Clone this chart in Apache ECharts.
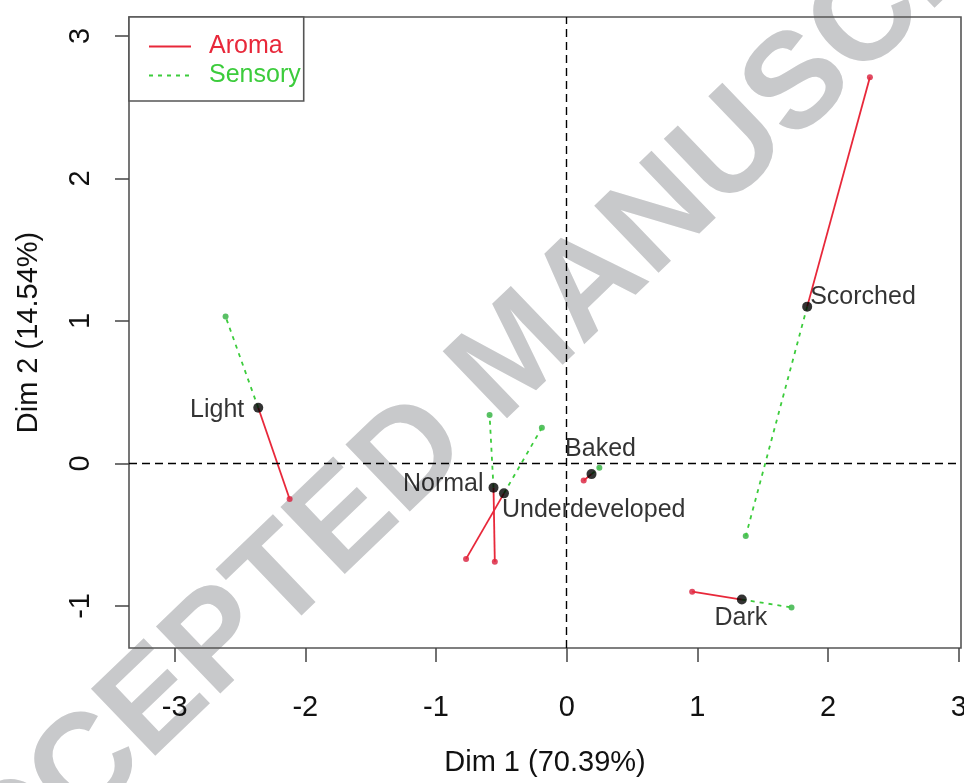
<!DOCTYPE html>
<html>
<head>
<meta charset="utf-8">
<script src="https://cdn.jsdelivr.net/npm/echarts@6/dist/echarts.min.js"></script>
<style>
  html, body { margin: 0; padding: 0; background: #fff; overflow: hidden; }
  #chart { width: 964px; height: 783px; }
</style>
</head>
<body>
<div id="chart"></div>
<script>
    // 各样品的平均点坐标
    var individuals = ['Light', 'Normal', 'Underdeveloped', 'Baked', 'Scorched', 'Dark'];
    var meanX = [-2.36, -0.56, -0.48, 0.19, 1.84, 1.34];
    var meanY = [0.39, -0.17, -0.21, -0.075, 1.10, -0.955];
    // Aroma 部分点
    var aromaX = [-2.12, -0.55, -0.77, 0.13, 2.32, 0.96];
    var aromaY = [-0.25, -0.69, -0.67, -0.12, 2.71, -0.90];
    // Sensory 部分点
    var sensoryX = [-2.61, -0.59, -0.19, 0.25, 1.37, 1.72];
    var sensoryY = [1.03, 0.34, 0.25, -0.03, -0.51, -1.01];
    // 刻度
    var xTicks = [-3, -2, -1, 0, 1, 2, 3];
    var yTicks = [-1, 0, 1, 2, 3];

    var red = '#e8283a';
    var green = '#3ccc3c';
    var font = "'Liberation Sans', Arial, sans-serif";

    // 标签位置（相对于点中心的偏移）
    var labelPos = {
        'Light': { align: 'right', offset: [-14, 2] },
        'Normal': { align: 'right', offset: [-10, -4] },
        'Underdeveloped': { align: 'left', offset: [-2, 17] },
        'Baked': { align: 'center', offset: [9, -25] },
        'Scorched': { align: 'left', offset: [3, -10] },
        'Dark': { align: 'center', offset: [-1, 19] }
    };

    var series = [];
    individuals.forEach(function(name, i) {
        series.push({
            name: 'Aroma',
            type: 'line',
            symbol: 'none',
            lineStyle: { color: red, width: 1.8 },
            itemStyle: { color: red },
            data: [[meanX[i], meanY[i]], [aromaX[i], aromaY[i]]]
        });
        series.push({
            name: 'Sensory',
            type: 'line',
            symbol: 'none',
            lineStyle: { color: green, width: 1.8, type: [4, 5] },
            itemStyle: { color: green },
            data: [[meanX[i], meanY[i]], [sensoryX[i], sensoryY[i]]]
        });
    });

    series.push({
        name: 'aromaPts',
        type: 'scatter',
        symbolSize: 6,
        itemStyle: { color: '#d81e3c' },
        data: aromaX.map(function(x, i) { return [x, aromaY[i]]; })
    });
    series.push({
        name: 'sensoryPts',
        type: 'scatter',
        symbolSize: 6,
        itemStyle: { color: '#2fb03f' },
        data: sensoryX.map(function(x, i) { return [x, sensoryY[i]]; })
    });
    series.push({
        name: 'mean',
        type: 'scatter',
        symbolSize: 10,
        z: 5,
        itemStyle: { color: '#000' },
        data: individuals.map(function(name, i) {
            var p = labelPos[name];
            return {
                name: name,
                value: [meanX[i], meanY[i]],
                label: {
                    show: true,
                    position: 'inside',
                    formatter: name,
                    align: p.align,
                    verticalAlign: 'middle',
                    offset: p.offset,
                    color: '#000',
                    fontSize: 25,
                    fontFamily: font
                }
            };
        }),
        markLine: {
            silent: true,
            symbol: ['none', 'none'],
            label: { show: false },
            lineStyle: { color: '#000', type: [8, 5], width: 1.4 },
            data: [{ xAxis: 0 }, { yAxis: 0 }]
        }
    });

    var chart = echarts.init(document.getElementById('chart'), null, { width: 964, height: 783 });
    var option = {
        animation: false,
        backgroundColor: '#fff',
        grid: {
            left: 129, right: 3, top: 17, bottom: 135,
            outerBoundsMode: 'none',
            containLabel: false,
            show: true, borderColor: '#555', borderWidth: 1.6
        },
        legend: {
            left: 129,
            top: 17,
            orient: 'vertical',
            padding: [17, 3, 13, 19],
            itemGap: 4,
            itemWidth: 42,
            itemHeight: 14,
            borderColor: '#555',
            borderWidth: 1.6,
            backgroundColor: '#fff',
            itemStyle: { opacity: 0 },
            textStyle: { fontSize: 25, fontFamily: font, padding: [0, 0, 0, 13] },
            data: [
                { name: 'Aroma', textStyle: { color: red } },
                { name: 'Sensory', textStyle: { color: green } }
            ]
        },
        xAxis: {
            type: 'value',
            min: -3.349,
            max: 3.017,
            name: 'Dim 1 (70.39%)',
            nameLocation: 'middle',
            nameGap: 100,
            nameTextStyle: { fontSize: 29, fontFamily: font, color: '#111' },
            splitLine: { show: false },
            axisLine: { show: false, onZero: false },
            axisTick: { show: true, length: 14, customValues: xTicks, lineStyle: { color: '#444', width: 1.5 } },
            axisLabel: { customValues: xTicks, margin: 45, fontSize: 29, fontFamily: font, color: '#111' }
        },
        yAxis: {
            type: 'value',
            min: -1.295,
            max: 3.132,
            name: 'Dim 2 (14.54%)',
            nameLocation: 'middle',
            nameGap: 86,
            nameTextStyle: { fontSize: 29, fontFamily: font, color: '#111' },
            splitLine: { show: false },
            axisLine: { show: false, onZero: false },
            axisTick: { show: true, length: 14, customValues: yTicks, lineStyle: { color: '#444', width: 1.5 } },
            axisLabel: { customValues: yTicks, rotate: 90, margin: 34, fontSize: 29, fontFamily: font, color: '#111' }
        },
        graphic: [{
            type: 'text',
            z: -10,
            x: 518,
            y: 356,
            rotation: 0.765,
            silent: true,
            style: {
                text: 'ACCEPTED MANUSCRIPT',
                fill: '#c8c9cb',
                font: "bold 135px 'Liberation Sans', Arial, sans-serif",
                textAlign: 'center',
                textVerticalAlign: 'middle'
            }
        }],
        series: series
    };
    chart.setOption(option);
</script>
</body>
</html>
